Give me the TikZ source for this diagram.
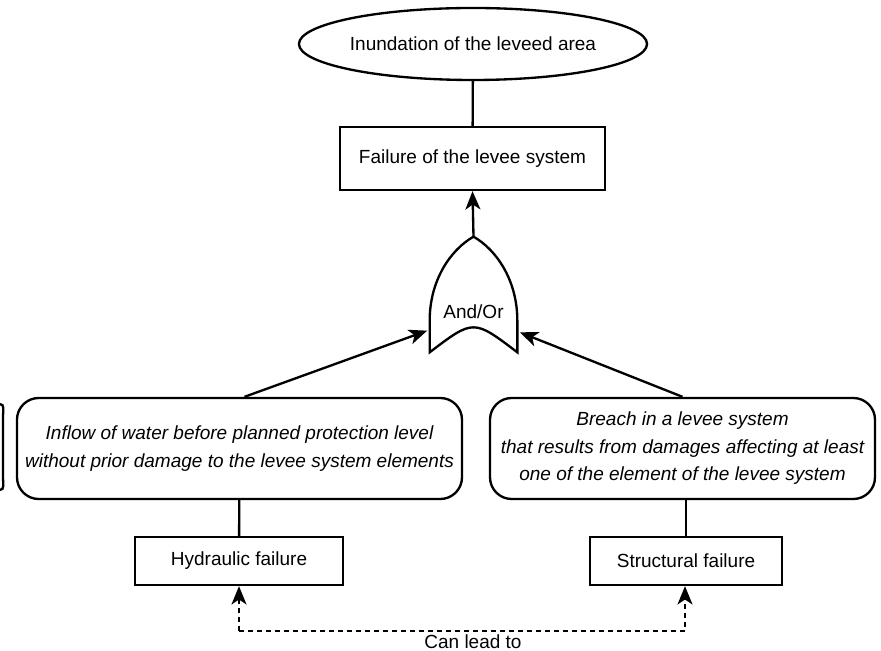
\documentclass[tikz,border=0pt]{standalone}
\usepackage{fontspec}
\setmainfont{Liberation Sans}
\usetikzlibrary{shapes.geometric,arrows.meta}

\begin{document}
\begin{tikzpicture}[x=0.6pt,y=-0.6pt]
       \tikzstyle{every node}=[font=\fontsize{11.4}{13.7}\selectfont, inner sep=0pt]
       \tikzstyle{topnode}=[draw, ellipse, line width=1.4pt, minimum width=187.8pt, minimum height=43.2pt]
       \tikzstyle{boxnode}=[draw, rectangle, line width=1.4pt]
       \tikzstyle{causenode}=[draw, rounded corners=13pt, line width=1.4pt, align=center,
                              font=\fontsize{11.4}{16.5}\selectfont\itshape]
       \tikzstyle{link}=[line width=1.4pt]
       \tikzstyle{arrowlink}=[line width=1.4pt, -{Stealth[length=11pt,width=9pt,inset=3pt]}]
       \tikzstyle{leadlink}=[line width=1.4pt, dash pattern=on 3pt off 2.4pt,
                             -{Stealth[length=11pt,width=9pt,inset=3pt]}]
       \useasboundingbox (0,0) rectangle (881,651);
       % top event and system failure
       \node[topnode] (flood) at (473,44) {Inundation of the leveed area};
       \node[boxnode, minimum width=159pt, minimum height=37.8pt] (system) at (472.5,158.5) {Failure of the levee system};
       % and/or gate
       \node[minimum width=52.2pt, minimum height=69pt] (gate) at (473.5,294.5) {};
       \node (gatetext) at (473.5,312) {And/Or};
       \draw[link] (gate.south west) -- ([yshift=19pt]gate.south west)
          .. controls ([yshift=43pt]gate.south west) and ([xshift=-14pt,yshift=-8pt]gate.north) .. (gate.north)
          .. controls ([xshift=14pt,yshift=-8pt]gate.north) and ([yshift=43pt]gate.south east) .. ([yshift=19pt]gate.south east)
          -- (gate.south east)
          .. controls ([yshift=20pt]gate.south) .. (gate.south west) -- cycle;
       % causes
       \node[causenode, minimum width=267pt, minimum height=60.6pt] (inflow) at (239.5,448.5)
          {Inflow of water before planned protection level\\without prior damage to the levee system elements};
       \node[causenode, minimum width=231pt, minimum height=60.6pt] (breach) at (682.5,448.5)
          {Breach in a levee system\\that results from damages affecting at least\\one of the element of the levee system};
       \node[boxnode, minimum width=124.8pt, minimum height=28.8pt] (hydraulic) at (239,561) {Hydraulic failure};
       \node[boxnode, minimum width=115.2pt, minimum height=28.8pt] (structural) at (686,561) {Structural failure};
       \coordinate (leadleft) at (239,631);
       \coordinate (leadright) at (685,631);
       \node (leadtext) at (473,642) {Can lead to};
       % edge of a neighbouring box
       \draw[link] (0,404) to[out=0,in=90] (3,416) -- (3,478) to[out=-90,in=0] (0,490);
       % connectors
       \draw[link] (flood) -- (system);
       \draw[arrowlink] (gate.north) -- (system.south);
       \draw[arrowlink] ([xshift=3pt]inflow.north) -- ([xshift=-1.5pt,yshift=13pt]gate.south west);
       \draw[arrowlink] (breach.north) -- ([xshift=1.5pt,yshift=12pt]gate.south east);
       \draw[link] (inflow) -- (hydraulic);
       \draw[link] (breach.south -| structural.north) -- (structural.north);
       \draw[leadlink] (leadleft) -- (hydraulic.south -| leadleft);
       \draw[leadlink] (leadleft) -- (leadright) -- (structural.south -| leadright);
      \end{tikzpicture}
\end{document}
